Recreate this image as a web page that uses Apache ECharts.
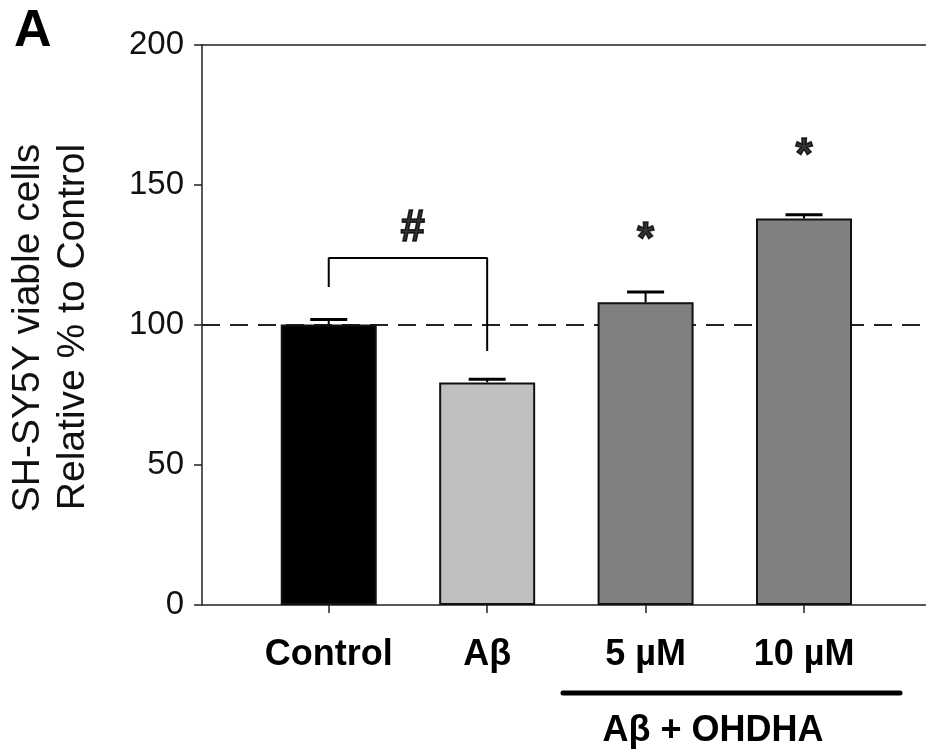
<!DOCTYPE html>
<html>
<head>
<meta charset="utf-8">
<script src="https://cdn.jsdelivr.net/npm/echarts@6/dist/echarts.min.js"></script>
<style>
  html, body { margin: 0; padding: 0; background: #fff; }
  #main { width: 926px; height: 754px; }
</style>
</head>
<body>
<div id="main"></div>
<script>
// data
var categories = ['Control', 'Aβ', '5 µM', '10 µM'];
var positions = [1, 2, 3, 4];
var means = [100.2, 79.5, 108.1, 138.0];
var errors = [1.8, 1.1, 3.7, 1.4];
var barColors = ['#000000', '#c0c0c0', '#808080', '#808080'];
var yTicks = [0, 50, 100, 150, 200];
var refLevel = 100;
// significance bracket Control vs Aβ
var bracket = [[1, 113.6], [1, 123.9], [2, 123.9], [2, 90.7]];
var marks = [
  { x: 1.53, y: 134.3, text: '#' },
  { x: 3, y: 130.0, text: '*' },
  { x: 4, y: 160.0, text: '*' }
];

var font = 'Liberation Sans, Arial, Helvetica, sans-serif';
var xMin = 0.2, xMax = 4.77;

var barData = [];
var errData = [];
for (var i = 0; i < positions.length; i++) {
  barData.push({ value: [positions[i], means[i]], itemStyle: { color: barColors[i] } });
  errData.push([positions[i], means[i], errors[i]]);
}

var chart = echarts.init(document.getElementById('main'));

var option = {
  backgroundColor: '#fff',
  animation: false,
  grid: { left: 202, right: 0, top: 45, bottom: 149 },
  xAxis: [{
    type: 'value',
    min: xMin,
    max: xMax,
    position: 'bottom',
    splitLine: { show: false },
    axisLine: { lineStyle: { color: '#222', width: 1.5 } },
    axisTick: { customValues: positions, length: 8, lineStyle: { color: '#222', width: 1.5 } },
    axisLabel: {
      customValues: positions,
      margin: 32,
      fontFamily: font,
      fontSize: 36,
      fontWeight: 'bold',
      color: '#000',
      formatter: function (v) { return categories[Math.round(v) - 1]; }
    }
  }, {
    type: 'value',
    min: xMin,
    max: xMax,
    position: 'top',
    splitLine: { show: false },
    axisLine: { lineStyle: { color: '#222', width: 1.5 } },
    axisTick: { show: false },
    axisLabel: { show: false }
  }],
  yAxis: {
    type: 'value',
    min: 0,
    max: 200,
    interval: 50,
    splitLine: { show: false },
    axisLine: { show: true, lineStyle: { color: '#222', width: 1.5 } },
    axisTick: { show: true, length: 8, lineStyle: { color: '#222', width: 1.5 } },
    axisLabel: {
      margin: 18,
      fontFamily: font,
      fontSize: 33,
      color: '#111',
      formatter: function (v) { return yTicks.indexOf(v) >= 0 ? String(v) : ''; }
    }
  },
  series: [
    {
      // dashed reference line at 100 %
      type: 'line',
      data: [[xMin, refLevel], [xMax, refLevel]],
      symbol: 'none',
      z: 1,
      lineStyle: { color: '#222', width: 2, type: [18, 10] }
    },
    {
      type: 'bar',
      data: barData,
      barWidth: 96,
      z: 2,
      itemStyle: { borderColor: '#111', borderWidth: 2 }
    },
    {
      // upper error bars
      type: 'custom',
      data: errData,
      z: 3,
      renderItem: function (params, api) {
        var x = api.value(0), y = api.value(1), e = api.value(2);
        var base = api.coord([x, y]);
        var top = api.coord([x, y + e]);
        return {
          type: 'group',
          children: [
            { type: 'line', shape: { x1: base[0], y1: base[1], x2: top[0], y2: top[1] },
              style: { stroke: '#000', lineWidth: 2 } },
            { type: 'line', shape: { x1: top[0] - 18.5, y1: top[1], x2: top[0] + 18.5, y2: top[1] },
              style: { stroke: '#000', lineWidth: 3 } }
          ]
        };
      }
    },
    {
      type: 'line',
      data: bracket,
      symbol: 'none',
      z: 3,
      lineStyle: { color: '#000', width: 2 }
    },
    {
      type: 'scatter',
      symbolSize: 0,
      z: 4,
      data: marks.map(function (m) { return { value: [m.x, m.y], name: m.text }; }),
      label: {
        show: true,
        position: 'inside',
        formatter: function (p) { return p.name; },
        fontFamily: font,
        fontWeight: 'bold',
        fontSize: 44,
        color: '#000',
        textBorderColor: '#000',
        textBorderWidth: 1.5
      }
    }
  ],
  graphic: [
    { type: 'text', left: 14, top: 6,
      style: { text: 'A', font: 'bold 52px ' + font, fill: '#000' } },
    { type: 'text', x: 28, y: 328, rotation: Math.PI / 2,
      style: { text: 'SH-SY5Y viable cells', font: '39px ' + font, fill: '#111',
               align: 'center', verticalAlign: 'middle' } },
    { type: 'text', x: 73, y: 327, rotation: Math.PI / 2,
      style: { text: 'Relative % to Control', font: '39px ' + font, fill: '#111',
               align: 'center', verticalAlign: 'middle' } },
    { type: 'line', shape: { x1: 563, y1: 693, x2: 900, y2: 693 },
      style: { stroke: '#000', lineWidth: 5, lineCap: 'round' } },
    { type: 'text', x: 713, y: 731,
      style: { text: 'Aβ + OHDHA', font: 'bold 36px ' + font, fill: '#000',
               align: 'center', verticalAlign: 'middle' } }
  ]
};

chart.setOption(option);
</script>
</body>
</html>
